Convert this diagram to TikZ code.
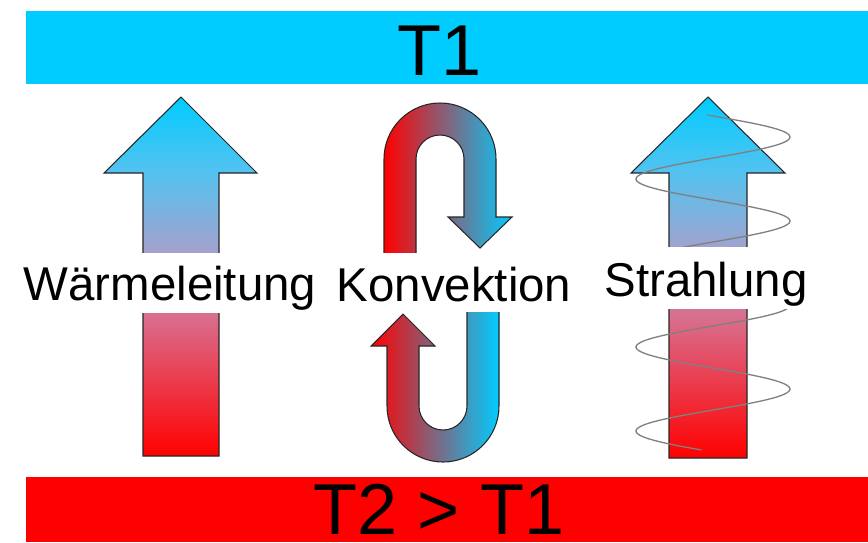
\documentclass[tikz,border=0pt]{standalone}
\usepackage{fontspec}
\setmainfont{Liberation Sans}
\usepackage{xcolor}
\usepackage{tikz}

\definecolor{heatred}{HTML}{FF0000}
\definecolor{heatpink}{HTML}{D87090}
\definecolor{heatlila}{HTML}{A6A0CC}
\definecolor{heatblue}{HTML}{55C2F0}
\definecolor{heatcyan}{HTML}{00CCFF}

% bottom (warm) to top (cold)
\pgfdeclareverticalshading{heatup}{100bp}{color(0bp)=(heatred); color(25bp)=(heatred);
    color(44.8bp)=(heatpink); color(53.2bp)=(heatlila); color(64.4bp)=(heatblue);
    color(75bp)=(heatcyan); color(100bp)=(heatcyan)}

\tikzset{
    outline/.style={draw=black!85, line width=0.6pt, line join=miter},
    cover/.style={fill=white},
    label/.style={anchor=base, inner sep=0pt, font=\fontsize{27}{27}\selectfont},
    temp/.style={inner sep=0pt, text depth=0pt, font=\fontsize{41}{41}\selectfont}
}

\begin{document}
\begin{tikzpicture}[x=0.02cm, y=-0.02cm]
    \useasboundingbox (0,0) rectangle (868,542);

    % the two plates
    \fill[heatcyan] (26,11) rectangle (868,84);
    \fill[heatred] (26,477) rectangle (868,542);
    \node[temp, anchor=base] (tone) at (440,75) {T1};
    \node[temp, anchor=base] (ttwo) at (439,534) {T2 > T1};

    % Waermeleitung
    \shadedraw[shading=heatup, outline] (181,97) -- (257,173) -- (219,173) -- (219,456)
        -- (143,456) -- (143,173) -- (104,173) -- cycle;

    % Konvektion
    \begin{scope}
        \shadedraw[left color=heatred, right color=heatcyan, outline] (384,265) -- (384,159)
            arc (180:360:56) -- (496,217) -- (512,217) -- (480,248) -- (448,217) -- (464,217)
            -- (464,159) arc (0:-180:24) -- (416,265) -- cycle;
        \shadedraw[left color=heatred, right color=heatcyan, outline] (499,300) -- (499,406)
            arc (0:180:56) -- (387,346) -- (371,346) -- (403,314) -- (435,346) -- (419,346)
            -- (419,406) arc (180:0:24) -- (467,300) -- cycle;
    \end{scope}

    % Strahlung
    \shadedraw[shading=heatup, outline] (708,97) -- (785,173) -- (747,173) -- (747,458)
        -- (669,458) -- (669,173) -- (631,173) -- cycle;
    \draw[gray, line width=0.75pt, domain=115:450, samples=240, smooth]
        plot ({713+77*cos(4.2857*(\x-137))}, \x);

    % labels
    \fill[cover] (100,253) rectangle (262,313);
    \fill[cover] (360,253) rectangle (520,312);
    \fill[cover] (620,247) rectangle (800,309);
    \node[label] (warme) at (170,300) {Wärmeleitung};
    \node[label] (konv) at (454,301) {Konvektion};
    \node[label] (strahl) at (706,296) {Strahlung};
\end{tikzpicture}
\end{document}
